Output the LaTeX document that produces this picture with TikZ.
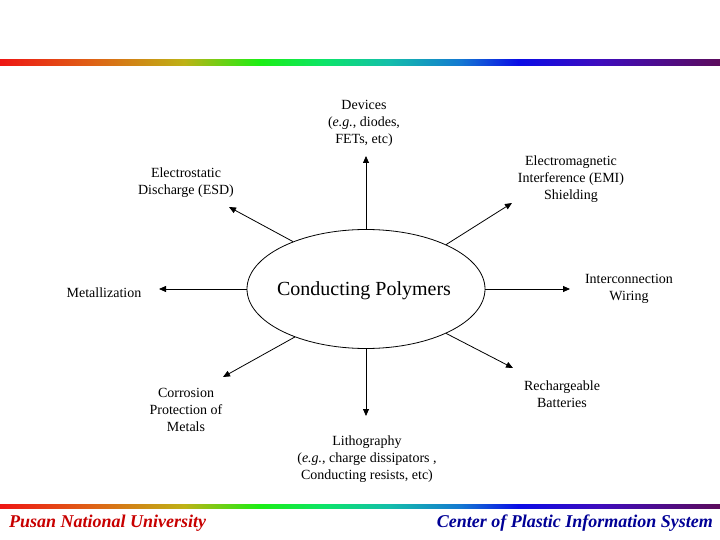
\documentclass[tikz,border=0pt]{standalone}
\usepackage{fontspec}
\setmainfont{Liberation Serif}
\usetikzlibrary{shapes.geometric,arrows.meta}
\definecolor{c0}{RGB}{238,22,20}
\definecolor{c1}{RGB}{222,100,22}
\definecolor{c2}{RGB}{190,178,22}
\definecolor{c3}{RGB}{28,238,20}
\definecolor{c4}{RGB}{12,228,105}
\definecolor{c5}{RGB}{20,190,170}
\definecolor{c6}{RGB}{20,120,210}
\definecolor{c7}{RGB}{10,12,230}
\definecolor{c8}{RGB}{62,12,190}
\definecolor{c9}{RGB}{92,12,92}
\definecolor{footred}{RGB}{200,0,0}
\definecolor{footblue}{RGB}{0,0,150}
\newcommand\rainbowbar[2]{%
  \shade[left color=c0,right color=c1] (0,#1) rectangle (94.5,#2);
  \shade[left color=c1,right color=c2] (94,#1) rectangle (184.5,#2);
  \shade[left color=c2,right color=c3] (184,#1) rectangle (259.5,#2);
  \shade[left color=c3,right color=c4] (259,#1) rectangle (324.5,#2);
  \shade[left color=c4,right color=c5] (324,#1) rectangle (389.5,#2);
  \shade[left color=c5,right color=c6] (389,#1) rectangle (461.5,#2);
  \shade[left color=c6,right color=c7] (461,#1) rectangle (518.5,#2);
  \shade[left color=c7,right color=c8] (518,#1) rectangle (598.5,#2);
  \shade[left color=c8,right color=c9] (598,#1) rectangle (720,#2);
}
\tikzset{
  lbl/.style={align=center,inner sep=0pt,font=\fontsize{14}{17}\selectfont},
  conn/.style={line width=0.8pt,-{Triangle[length=7pt,width=6pt]}},
  foot/.style={inner sep=0pt,font=\fontsize{18}{20}\selectfont\bfseries\itshape}
}
\begin{document}
\begin{tikzpicture}[x=1pt,y=-1pt]
\useasboundingbox (0,0) rectangle (720,540);
\fill[white] (0,0) rectangle (720,540);
\rainbowbar{60}{66}
\rainbowbar{504}{508}

\node[ellipse,draw,line width=0.8pt,minimum width=238pt,minimum height=119pt,inner sep=0pt] (cp) at (366,289) {};
\node[inner sep=0pt,font=\fontsize{20}{22}\selectfont] (cptxt) at (364,290.5) {Conducting Polymers};

\node[lbl] (dev) at (364,123.5) {Devices\\(\textit{e.g.}, diodes,\\FETs, etc)};
\node[lbl] (esd) at (186,183) {Electrostatic\\Discharge (ESD)};
\node[lbl] (emi) at (571,179) {Electromagnetic\\Interference (EMI)\\Shielding};
\node[lbl] (met) at (104,292.5) {Metallization};
\node[lbl] (wir) at (629,289) {Interconnection\\Wiring};
\node[lbl] (cor) at (186,409.5) {Corrosion\\Protection of\\Metals};
\node[lbl] (bat) at (562,394.5) {Rechargeable\\Batteries};
\node[lbl] (lit) at (367,459.5) {Lithography\\(\textit{e.g.}, charge dissipators ,\\Conducting resists, etc)};

\coordinate (tu) at (366,156);
\coordinate (td) at (366,416);
\coordinate (tl) at (159,289);
\coordinate (tr) at (570,289);
\coordinate (tul) at (229,207);
\coordinate (tur) at (512,203);
\coordinate (tll) at (223,377);
\coordinate (tlr) at (513,368);

\draw[conn] (cp.north) -- (tu);
\draw[conn] (cp.south) -- (td);
\draw[conn] (cp.west) -- (tl);
\draw[conn] (cp.east) -- (tr);
\draw[conn] (cp.147.6) -- (tul);
\draw[conn] (cp.29.7) -- (tur);
\draw[conn] (cp.214.2) -- (tll);
\draw[conn] (cp.331.5) -- (tlr);

\node[foot,text=footred,anchor=west] (pnu) at (9,523.5) {Pusan National University};
\node[foot,text=footblue,anchor=east] (cpis) at (713,523.5) {Center of Plastic Information System};
\end{tikzpicture}
\end{document}
